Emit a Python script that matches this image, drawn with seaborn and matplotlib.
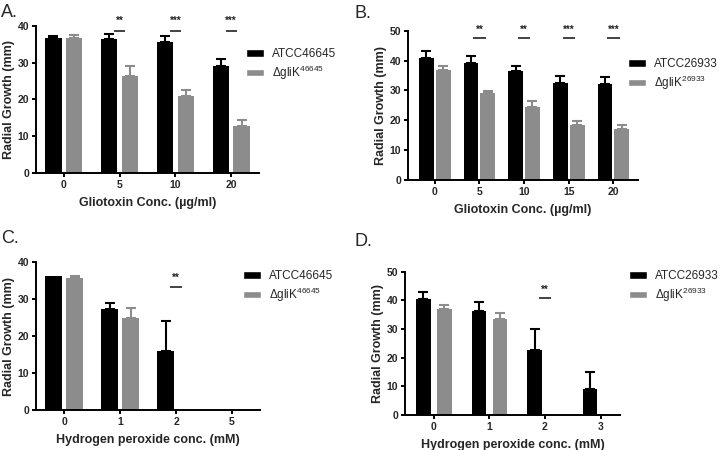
import matplotlib
matplotlib.use("Agg")
import matplotlib.pyplot as plt
from matplotlib.patches import Patch
import seaborn as sns
import pandas as pd

# ---------------- data ----------------
A_conc = ["0", "5", "10", "20"]
A_wt = [36.7, 36.5, 35.7, 29.0]
A_wt_err = [0.6, 1.4, 1.6, 2.0]
A_mut = [36.7, 26.4, 21.0, 12.7]
A_mut_err = [0.8, 2.6, 1.5, 1.6]
A_sig = ["", "**", "***", "***"]

B_conc = ["0", "5", "10", "15", "20"]
B_wt = [40.7, 39.1, 36.4, 32.4, 32.1]
B_wt_err = [2.5, 2.5, 1.7, 2.4, 2.5]
B_mut = [36.8, 29.2, 24.6, 18.4, 17.1]
B_mut_err = [1.5, 0.7, 1.7, 1.5, 1.4]
B_sig = ["", "**", "**", "***", "***"]

C_conc = ["0", "1", "2", "5"]
C_wt = [36.1, 27.4, 16.0, 0.0]
C_wt_err = [0.0, 1.6, 8.1, 0.0]
C_mut = [35.6, 25.0, 0.0, 0.0]
C_mut_err = [0.6, 2.5, 0.0, 0.0]
C_sig = ["", "", "**", ""]

D_conc = ["0", "1", "2", "3"]
D_wt = [40.5, 36.4, 22.6, 9.0]
D_wt_err = [2.5, 2.9, 7.4, 6.0]
D_mut = [37.0, 33.5, 0.0, 0.0]
D_mut_err = [1.4, 2.1, 0.0, 0.0]
D_sig = ["", "", "**", ""]

strain_A = ["ATCC46645", "ΔgliK$^{46645}$"]
strain_B = ["ATCC26933", "ΔgliK$^{26933}$"]

xlab_glio = "Gliotoxin Conc. (µg/ml)"
xlab_h2o2 = "Hydrogen peroxide conc. (mM)"
ylab = "Radial Growth (mm)"

# ---------------- style ----------------
sns.set_style("ticks")
plt.rcParams["font.family"] = ["Liberation Sans", "DejaVu Sans"]
plt.rcParams["mathtext.fontset"] = "custom"
plt.rcParams["mathtext.rm"] = "Liberation Sans"
plt.rcParams["mathtext.it"] = "Liberation Sans:italic"
plt.rcParams["mathtext.bf"] = "Liberation Sans:bold"

BLACK = "#000000"
GRAY = "#8c8c8c"
W, H = 720, 450

fig = plt.figure(figsize=(7.2, 4.5), dpi=100)


def px_axes(left, right, top, bottom):
    return fig.add_axes([left / W, 1 - bottom / H, (right - left) / W, (bottom - top) / H])


def panel(ax, conc, wt, wt_err, mut, mut_err, sig, sig_y, star_y, sig_half,
          strains, ymax, xlim, gap, xlabel, letter, letter_xy, leg_xy):
    df = pd.DataFrame({
        "conc": conc * 2,
        "strain": [strains[0]] * len(conc) + [strains[1]] * len(conc),
        "growth": wt + mut,
    })
    sns.barplot(data=df, x="conc", y="growth", hue="strain", order=conc,
                hue_order=strains, palette=[BLACK, GRAY], width=0.75, gap=gap,
                errorbar=None, legend=False, saturation=1, linewidth=0, ax=ax)
    for cont, errs, col in zip(ax.containers, [wt_err, mut_err], [BLACK, GRAY]):
        for bar, e in zip(cont, errs):
            if e <= 0:
                continue
            x = bar.get_x() + bar.get_width() / 2
            h = bar.get_height()
            ax.errorbar([x], [h], yerr=[[0], [e]], fmt="none", ecolor=col,
                        elinewidth=1.5, capsize=3.4, capthick=1.5, clip_on=False)
    for i, s in enumerate(sig):
        if not s:
            continue
        ax.plot([i - sig_half, i + sig_half], [sig_y, sig_y], color="#222222",
                lw=1.2, clip_on=False, solid_capstyle="butt")
        ax.text(i, star_y, s, ha="center", va="center", fontsize=7,
                fontweight="bold", color="#222222", clip_on=False)
    ax.set_ylim(0, ymax)
    ax.set_yticks(range(0, ymax + 1, 10))
    ax.set_xlim(*xlim)
    ax.set_xlabel(xlabel, fontsize=9, fontweight="bold", labelpad=5)
    ax.set_ylabel(ylab, fontsize=9, fontweight="bold", labelpad=1.5)
    for sp in ["top", "right"]:
        ax.spines[sp].set_visible(False)
    for sp in ["left", "bottom"]:
        ax.spines[sp].set_linewidth(1.4)
        ax.spines[sp].set_color("black")
    ax.tick_params(axis="both", direction="out", width=1.4, length=3,
                   labelsize=7.5, color="black", pad=2)
    for lab in ax.get_xticklabels() + ax.get_yticklabels():
        lab.set_fontweight("bold")
    fig.text(letter_xy[0] / W, 1 - letter_xy[1] / H, letter, fontsize=13,
             ha="left", va="top")
    handles = [Patch(facecolor=BLACK, label=strains[0]),
               Patch(facecolor=GRAY, label=strains[1])]
    ax.legend(handles=handles, loc="upper left",
              bbox_to_anchor=(leg_xy[0] / W, 1 - leg_xy[1] / H),
              bbox_transform=fig.transFigure, frameon=False, fontsize=8.5,
              handlelength=1.5, handleheight=0.6, handletextpad=0.7,
              labelspacing=0.3, borderpad=0, borderaxespad=0)


axA = px_axes(36, 259, 26, 173)
panel(axA, A_conc, A_wt, A_wt_err, A_mut, A_mut_err, A_sig, 38.7, 41.3, 0.1,
      strain_A, 40, (-0.5, 3.5), 0.22, xlab_glio, "A.", (1, 4), (246, 48))

axB = px_axes(408, 638, 30.7, 180)
panel(axB, B_conc, B_wt, B_wt_err, B_mut, B_mut_err, B_sig, 47.7, 50.3, 0.14,
      strain_B, 50, (-0.6, 4.55), 0.12, xlab_glio, "B.", (354, 5), (628, 58))

axC = px_axes(36, 260, 262, 410)
panel(axC, C_conc, C_wt, C_wt_err, C_mut, C_mut_err, C_sig, 33.3, 35.6, 0.1,
      strain_A, 40, (-0.5, 3.5), 0.22, xlab_h2o2, "C.", (1, 230), (243, 270))

axD = px_axes(405, 620, 271.7, 415)
panel(axD, D_conc, D_wt, D_wt_err, D_mut, D_mut_err, D_sig, 40.7, 43.6, 0.1,
      strain_B, 50, (-0.52, 3.35), 0.3, xlab_h2o2, "D.", (354, 233), (629, 270))

fig.savefig("out.png", dpi=100)
